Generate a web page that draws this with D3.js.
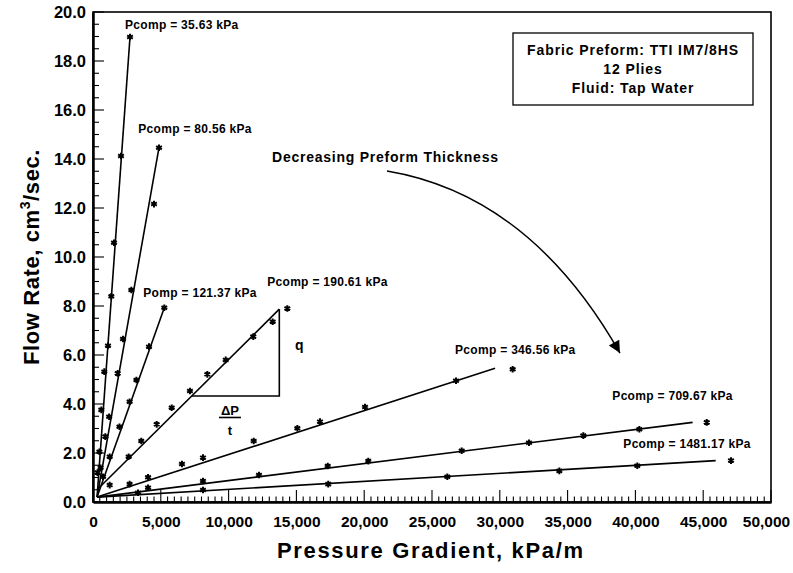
<!DOCTYPE html>
<html><head><meta charset="utf-8">
<script src="https://cdn.jsdelivr.net/npm/d3@7"></script>
<style>
body{margin:0;background:#fff;}
text{font-family:"Liberation Sans",Arial,Helvetica,sans-serif;font-weight:bold;fill:#000;}
</style></head>
<body><svg id="chart" width="793" height="573"></svg>
<script>
// ---- data ----
const seriesLabels = ["Pcomp = 35.63 kPa","Pcomp = 80.56 kPa","Pomp = 121.37 kPa","Pcomp = 190.61 kPa","Pcomp = 346.56 kPa","Pcomp = 709.67 kPa","Pcomp = 1481.17 kPa"];
// measured points [pressure gradient (kPa/m), flow rate (cm3/s)]
const ptsA = [[2729,18.98],[2065,14.12],[1549,10.58],[1350,8.4],[1106,6.38],[833,5.32],[612,3.76],[470,2.05],[330,1.2]];
const ptsB = [[4867,14.46],[4498,12.16],[2827,8.65],[2212,6.65],[1820,5.25],[1190,3.48],[908,2.67],[560,1.4]];
const ptsC = [[5258,7.93],[4130,6.34],[3200,4.98],[2700,4.09],[1950,3.07],[1230,1.85],[737,1.03]];
const ptsD = [[14330,7.9],[13250,7.36],[11820,6.75],[9786,5.8],[8430,5.21],[7150,4.53],[5804,3.85],[4697,3.17],[3560,2.49],[2630,1.85],[1230,0.69]];
const ptsE = [[30950,5.42],[26770,4.95],[20060,3.88],[16740,3.28],[15070,3.01],[11850,2.49],[8110,1.81],[6560,1.55],[4060,1.01],[2700,0.73]];
const ptsF = [[45260,3.25],[40290,2.97],[36160,2.71],[32150,2.42],[27190,2.09],[20300,1.67],[17310,1.47],[12240,1.10],[8110,0.86],[4060,0.58]];
const ptsG = [[47050,1.69],[40140,1.48],[34390,1.27],[26130,1.03],[17350,0.73],[8110,0.49],[3320,0.38]];
const seriesPoints = [ptsA,ptsB,ptsC,ptsD,ptsE,ptsF,ptsG];
// fitted lines: per-series start and end
const fitStart = [[300,0.2],[300,0.2],[300,0.2],[300,0.5],[300,0.2],[300,0.2],[300,0.2]];
const fitEnd = [[2729,18.98],[4867,14.46],[5258,7.93],[13740,7.87],[29650,5.46],[44220,3.25],[45920,1.69]];
// label anchors (data units)
const labelAnchors = [[2360,19.31],[3340,15.06],[3710,8.37],[12850,8.82],[26700,6.04],[38300,4.16],[39110,2.20]];
const xTicks = [0,5000,10000,15000,20000,25000,30000,35000,40000,45000,50000];
const yTicks = [0,2,4,6,8,10,12,14,16,18,20];
const infoLines = ["Fabric Preform: TTI IM7/8HS","12 Plies","Fluid: Tap Water"];
const arrowPath = [[21680,13.51],[32230,12.53],[38860,6.08]];
const slopeTriangleX = [7280,13740];

// ---- layout ----
const svg = d3.select("#chart");
const m = {l:93, r:771, t:12, b:502};
const x = d3.scaleLinear().domain([0,50000]).range([m.l,m.r]);
const y = d3.scaleLinear().domain([0,20]).range([m.b,m.t]);

// frame
svg.append("rect").attr("x",m.l).attr("y",m.t).attr("width",m.r-m.l).attr("height",m.b-m.t)
  .attr("fill","none").attr("stroke","#000").attr("stroke-width",1.6);

// minor ticks
const g = svg.append("g");
g.selectAll(".xm").data(d3.range(0,50001,500)).join("line")
  .attr("x1",d=>x(d)).attr("x2",d=>x(d)).attr("y1",m.b).attr("y2",d=>m.b-(d%5000===0?12:5.5))
  .attr("stroke","#000").attr("stroke-width",1.1);
g.selectAll(".ym").data(d3.range(0,20.01,0.5)).join("line")
  .attr("y1",d=>y(d)).attr("y2",d=>y(d)).attr("x1",m.l).attr("x2",d=>m.l+(Math.abs(d%2)<1e-6?11:6))
  .attr("stroke","#000").attr("stroke-width",1.1);

// axes
const xAxis = svg.append("g").attr("transform",`translate(0,${m.b})`)
  .call(d3.axisBottom(x).tickValues(xTicks).tickSize(0).tickPadding(14)
    .tickFormat(d=>d===0?"0":d3.format(",")(d)));
xAxis.select(".domain").attr("stroke-width",2.5);
xAxis.selectAll("text").style("font-size","15.5px").style("font-family","'Liberation Sans',Arial,sans-serif").style("font-weight","bold")
  .attr("dx",d=>d===50000?-5:0);
const yAxis = svg.append("g").attr("transform",`translate(${m.l},0)`)
  .call(d3.axisLeft(y).tickValues(yTicks).tickSize(0).tickPadding(7).tickFormat(d3.format(".1f")));
yAxis.select(".domain").attr("stroke-width",2.5);
yAxis.selectAll("text").style("font-size","16.5px").style("font-family","'Liberation Sans',Arial,sans-serif").style("font-weight","bold");

// axis titles
svg.append("text").attr("x",430).attr("y",558).attr("text-anchor","middle")
  .style("font-size","22px").attr("textLength",306).attr("lengthAdjust","spacing").text("Pressure Gradient, kPa/m");
const yt = svg.append("text").attr("transform","translate(39,257) rotate(-90)").attr("text-anchor","middle")
  .style("font-size","22px").style("letter-spacing","0.6px");
yt.append("tspan").text("Flow Rate, cm");
yt.append("tspan").attr("dy",-9).style("font-size","14px").text("3");
yt.append("tspan").attr("dy",9).text("/sec.");

// fitted lines
svg.append("g").selectAll("line").data(fitEnd).join("line")
  .attr("x1",(d,i)=>x(fitStart[i][0])).attr("y1",(d,i)=>y(fitStart[i][1]))
  .attr("x2",d=>x(d[0])).attr("y2",d=>y(d[1]))
  .attr("stroke","#000").attr("stroke-width",1.6);

// points
const sym = d3.symbol().type(d3.symbolAsterisk).size(30);
const pg = svg.append("g");
seriesPoints.forEach(pts=>{
  pg.selectAll(null).data(pts).join("path")
    .attr("d",sym).attr("transform",d=>`translate(${x(d[0])},${y(d[1])})`)
    .attr("fill","none").attr("stroke","#000").attr("stroke-width",2);
});

// series labels
svg.append("g").selectAll("text").data(seriesLabels).join("text")
  .attr("x",(d,i)=>x(labelAnchors[i][0])).attr("y",(d,i)=>y(labelAnchors[i][1]))
  .style("font-size","12px").style("letter-spacing","0.3px").text(d=>d);

// slope triangle on D
const dA = fitStart[3], dB = fitEnd[3];
const lineD = X => dA[1] + (X-dA[0])*(dB[1]-dA[1])/(dB[0]-dA[0]);
const tx0 = slopeTriangleX[0], tx1 = slopeTriangleX[1];
svg.append("path")
  .attr("d",`M${x(tx0)},${y(lineD(tx0))}H${x(tx1)}V${y(lineD(tx1))}`)
  .attr("fill","none").attr("stroke","#000").attr("stroke-width",1.6);
svg.append("text").attr("x",x(14900)).attr("y",y(6.2)).style("font-size","14px").text("q");
svg.append("text").attr("x",x(10100)).attr("y",y(3.55)).attr("text-anchor","middle").style("font-size","13px").text("ΔP");
svg.append("line").attr("x1",x(10100)-11).attr("x2",x(10100)+11).attr("y1",y(3.45)).attr("y2",y(3.45))
  .attr("stroke","#000").attr("stroke-width",1.6);
svg.append("text").attr("x",x(10100)).attr("y",y(2.73)).attr("text-anchor","middle").style("font-size","13px").text("t");

// annotation text + arrow
svg.append("text").attr("x",272).attr("y",162).style("font-size","14px")
  .attr("textLength",226).attr("lengthAdjust","spacing").text("Decreasing Preform Thickness");
const p0 = arrowPath[0], c = arrowPath[1], p2 = arrowPath[2];
svg.append("defs").append("marker").attr("id","ah").attr("viewBox","0 0 10 10").attr("refX",10).attr("refY",5)
  .attr("markerWidth",20).attr("markerHeight",12).attr("markerUnits","userSpaceOnUse").attr("orient","auto")
  .append("path").attr("d","M0,0L10,5L0,10Z").attr("fill","#000");
svg.append("path")
  .attr("d",`M${x(p0[0])},${y(p0[1])}Q${x(c[0])},${y(c[1])} ${x(p2[0])},${y(p2[1])}`)
  .attr("fill","none").attr("stroke","#000").attr("stroke-width",1.5).attr("marker-end","url(#ah)");

// info box
svg.append("rect").attr("x",513).attr("y",33).attr("width",240).attr("height",72)
  .attr("fill","#fff").attr("stroke","#000").attr("stroke-width",1.3);
svg.append("g").selectAll("text").data(infoLines).join("text")
  .attr("x",633).attr("y",(d,i)=>55+i*19).attr("text-anchor","middle")
  .style("font-size","14px").style("letter-spacing","0.9px").text(d=>d);
</script></body></html>
